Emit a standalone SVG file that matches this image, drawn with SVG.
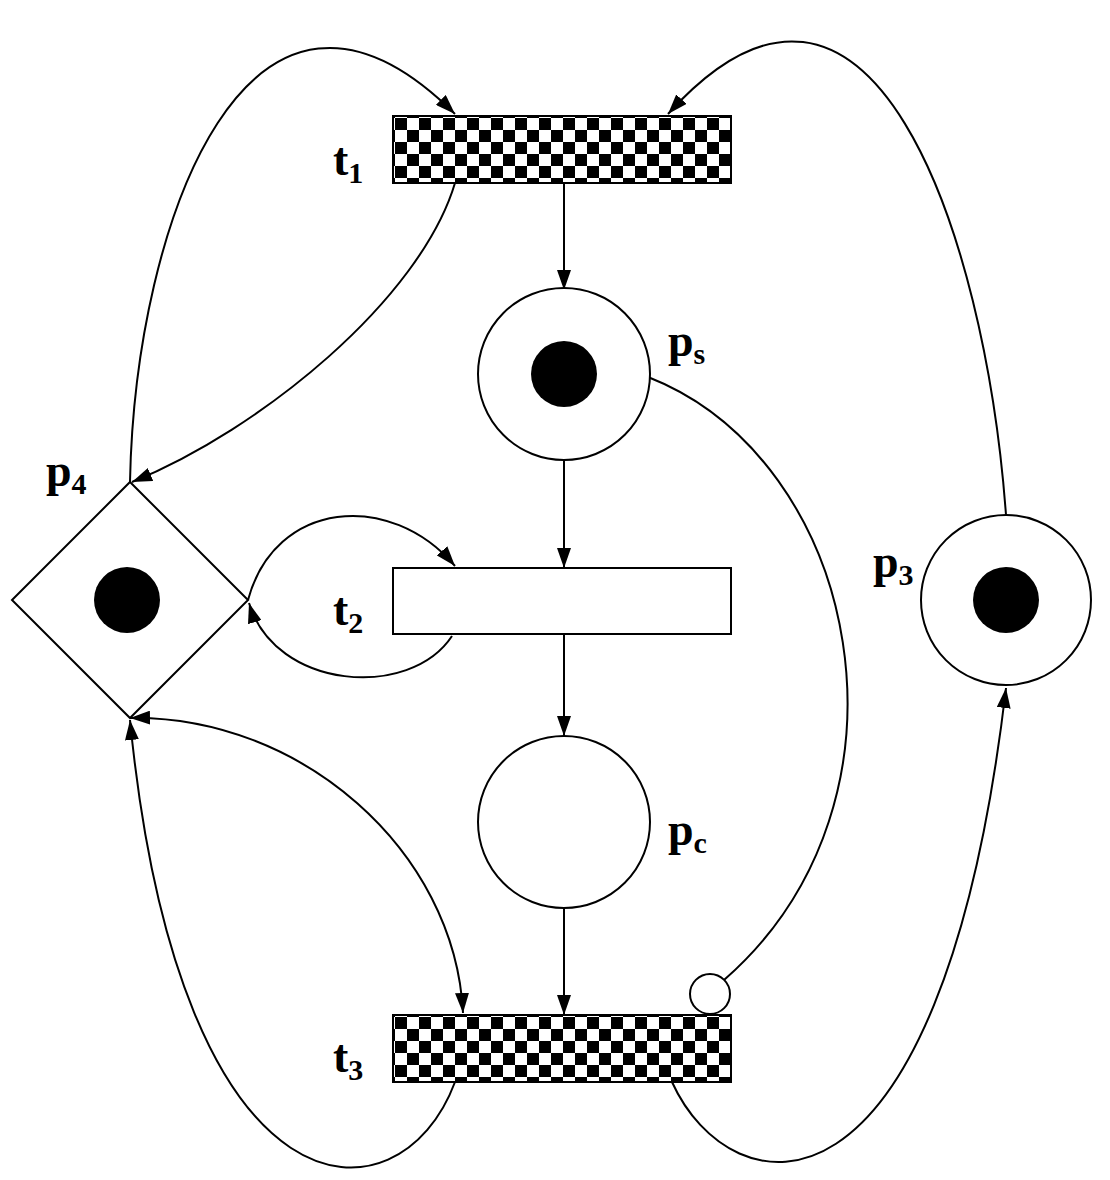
<svg xmlns="http://www.w3.org/2000/svg" width="1110" height="1180" viewBox="0 0 1110 1180">
<defs>
<pattern id="chk" x="395" y="118" width="24" height="24" patternUnits="userSpaceOnUse">
<rect width="24" height="24" fill="#fff"/>
<rect width="12" height="12" fill="#000"/>
<rect x="12" y="12" width="12" height="12" fill="#000"/>
</pattern>
<pattern id="chk3" x="395" y="1017" width="24" height="24" patternUnits="userSpaceOnUse">
<rect width="24" height="24" fill="#fff"/>
<rect width="12" height="12" fill="#000"/>
<rect x="12" y="12" width="12" height="12" fill="#000"/>
</pattern>
<marker id="ah" viewBox="0 0 20 14" refX="20" refY="7" markerWidth="20" markerHeight="14" markerUnits="userSpaceOnUse" orient="auto-start-reverse">
<path d="M0,0 L20,7 L0,14 Z" fill="#000"/>
</marker>
</defs>
<style>
.n{fill:#fff;stroke:#000;stroke-width:2}
.c{fill:none;stroke:#000;stroke-width:2}
.tk{fill:#000}
.lb{font-family:"Liberation Serif",serif;font-weight:bold;font-size:46px}
.sb{font-size:30px}
</style>
<g id="connectors">
<path class="c" d="M564,183 L564,290" marker-end="url(#ah)"/>
<path class="c" d="M564,460 L564,568" marker-end="url(#ah)"/>
<path class="c" d="M564,634 L564,736" marker-end="url(#ah)"/>
<path class="c" d="M564,908 L564,1015" marker-end="url(#ah)"/>
<path class="c" d="M130,482 C135,220 250,-90 455,114" marker-end="url(#ah)"/>
<path class="c" d="M1006,515 C985,230 870,-110 668,114" marker-end="url(#ah)"/>
<path class="c" d="M455,183 C420,300 260,430 132,482" marker-end="url(#ah)"/>
<path class="c" d="M248,600 C275,500 390,490 455,566" marker-end="url(#ah)"/>
<path class="c" d="M452,636 C410,700 275,690 249,603" marker-end="url(#ah)"/>
<path class="c" d="M130,718 C300,715 455,850 463,1013" marker-start="url(#ah)" marker-end="url(#ah)"/>
<path class="c" d="M455,1082 C400,1230 180,1230 130,720" marker-end="url(#ah)"/>
<path class="c" d="M672,1082 C730,1210 940,1250 1006,688" marker-end="url(#ah)"/>
<path class="c" d="M648,377 C860,460 930,800 724,980"/>
</g>
<g id="t1"><rect class="n" x="393" y="116" width="338" height="67" style="fill:url(#chk)"/><text class="lb" x="333" y="175">t<tspan class="sb" dy="8">1</tspan></text></g>
<g id="ps"><circle class="n" cx="564" cy="374" r="86"/><circle class="tk" cx="564" cy="374" r="33"/><text class="lb" x="668" y="356">p<tspan class="sb" dy="8">s</tspan></text></g>
<g id="t2"><rect class="n" x="393" y="568" width="338" height="66"/><text class="lb" x="333" y="625">t<tspan class="sb" dy="8">2</tspan></text></g>
<g id="pc"><circle class="n" cx="564" cy="822" r="86"/><text class="lb" x="668" y="845">p<tspan class="sb" dy="8">c</tspan></text></g>
<g id="t3"><rect class="n" x="393" y="1015" width="338" height="67" style="fill:url(#chk3)"/><text class="lb" x="333" y="1072">t<tspan class="sb" dy="8">3</tspan></text><circle class="n" cx="710" cy="994" r="20"/></g>
<g id="p3"><circle class="n" cx="1006" cy="600" r="85"/><circle class="tk" cx="1006" cy="600" r="33"/><text class="lb" x="873" y="577">p<tspan class="sb" dy="8">3</tspan></text></g>
<g id="p4"><path class="n" d="M130,482 L248,600 L130,718 L12,600 Z"/><circle class="tk" cx="127" cy="600" r="33"/><text class="lb" x="46" y="486">p<tspan class="sb" dy="8">4</tspan></text></g>
</svg>
